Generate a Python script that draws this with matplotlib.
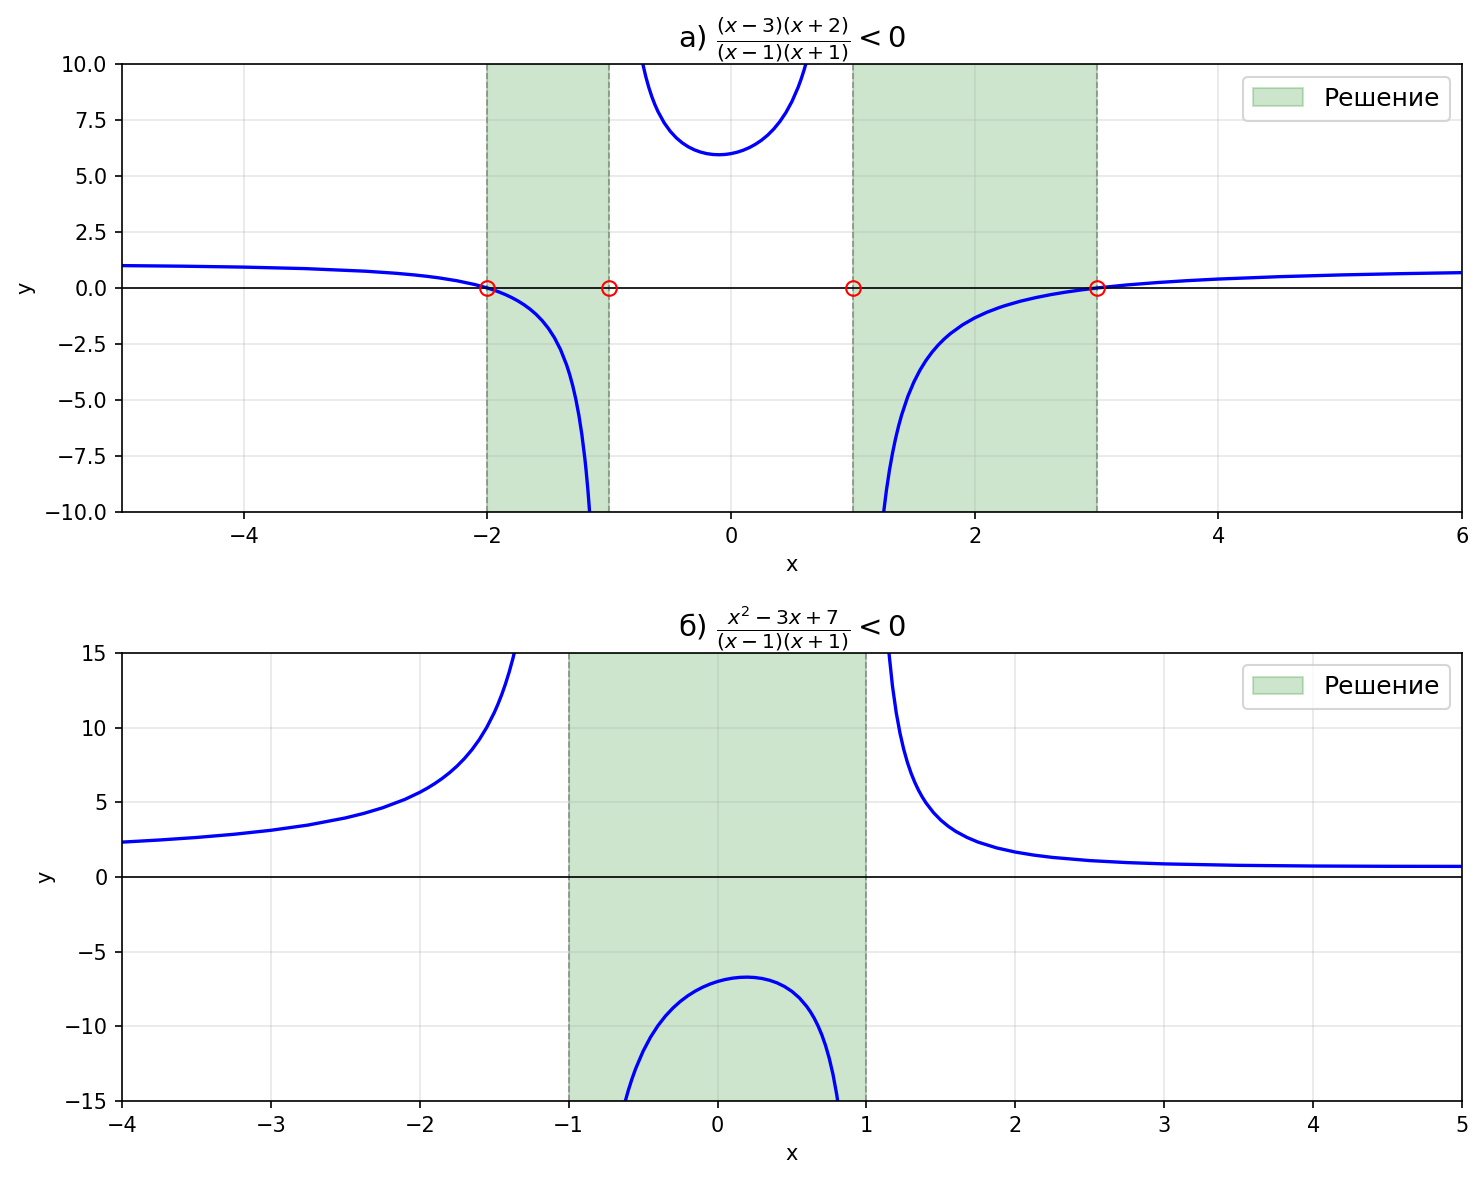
import matplotlib.pyplot as plt

# a) (x-3)(x+2)/((x-1)(x+1)) < 0
a_x1 = [-5, -4.5, -4, -3.5, -3, -2.75, -2.6, -2.5, -2.4, -2.25, -2.1, -2, -1.95, -1.9,
        -1.85, -1.8, -1.75, -1.7, -1.65, -1.6, -1.55, -1.5, -1.45, -1.4, -1.35, -1.325,
        -1.3, -1.275, -1.25, -1.225, -1.2, -1.19, -1.175, -1.16]
a_y1 = [1.0, 0.974, 0.933, 0.867, 0.75, 0.657, 0.583, 0.524, 0.454, 0.323, 0.150, 0.0,
        -0.088, -0.188, -0.300, -0.429, -0.576, -0.746, -0.945, -1.179, -1.460, -1.8,
        -2.220, -2.75, -3.438, -3.864, -4.362, -4.954, -5.667, -6.541, -7.636, -8.157,
        -9.049, -10.111]
a_x2 = [-0.75, -0.725, -0.7, -0.675, -0.65, -0.625, -0.6, -0.55, -0.5, -0.45, -0.4, -0.35,
        -0.3, -0.25, -0.2, -0.15, -0.1, -0.05, 0, 0.05, 0.1, 0.15, 0.2, 0.25, 0.3, 0.35,
        0.4, 0.45, 0.5, 0.55, 0.575, 0.6, 0.625, 0.65]
a_y2 = [10.714, 10.012, 9.431, 8.945, 8.532, 8.180, 7.875, 7.380, 7.0, 6.705, 6.476, 6.299,
        6.165, 6.067, 6.0, 5.962, 5.949, 5.962, 6.0, 6.063, 6.152, 6.269, 6.417, 6.6, 6.824,
        7.097, 7.429, 7.834, 8.333, 8.957, 9.329, 9.75, 10.231, 10.784]
a_x3 = [1.2, 1.225, 1.25, 1.275, 1.3, 1.325, 1.35, 1.375, 1.4, 1.45, 1.5, 1.55, 1.6, 1.65,
        1.7, 1.75, 1.8, 1.9, 2, 2.1, 2.2, 2.25, 2.375, 2.5, 2.625, 2.75, 2.875, 3, 3.25,
        3.5, 3.75, 4, 4.5, 5, 5.5, 6]
a_y3 = [-13.09, -11.434, -10.111, -9.030, -8.130, -7.371, -6.720, -6.158, -5.667, -4.850,
        -4.2, -3.670, -3.231, -2.861, -2.545, -2.273, -2.036, -1.644, -1.333, -1.082,
        -0.875, -0.785, -0.589, -0.429, -0.294, -0.181, -0.084, 0.0, 0.137, 0.244, 0.330,
        0.4, 0.506, 0.583, 0.641, 0.686]
a_solution = [(-2, -1), (1, 3)]
a_points = [-2, -1, 1, 3]

# б) (x^2-3x+7)/((x-1)(x+1)) < 0
b_x1 = [-4, -3.75, -3.5, -3.25, -3, -2.75, -2.5, -2.375, -2.25, -2.1, -2, -1.95, -1.9,
        -1.85, -1.8, -1.75, -1.7, -1.65, -1.6, -1.55, -1.5, -1.475, -1.45, -1.425, -1.4,
        -1.375, -1.35]
b_y1 = [2.333, 2.474, 2.644, 2.856, 3.125, 3.476, 3.952, 4.259, 4.631, 5.194, 5.667, 5.942,
        6.249, 6.593, 6.982, 7.424, 7.931, 8.518, 9.205, 10.020, 11.0, 11.569, 12.202,
        12.910, 13.708, 14.614, 15.65]
b_x2 = [-0.65, -0.625, -0.6, -0.575, -0.55, -0.5, -0.45, -0.4, -0.35, -0.3, -0.25, -0.2,
        -0.15, -0.1, -0.05, 0, 0.05, 0.1, 0.15, 0.2, 0.25, 0.3, 0.35, 0.4, 0.45, 0.5, 0.55,
        0.6, 0.625, 0.65, 0.675, 0.7, 0.725, 0.75, 0.775, 0.8, 0.82]
b_y2 = [-16.23, -15.205, -14.31, -13.529, -12.835, -11.667, -10.724, -9.952, -9.313, -8.780,
        -8.333, -7.958, -7.645, -7.384, -7.170, -7.0, -6.870, -6.778, -6.724, -6.708,
        -6.733, -6.802, -6.920, -7.095, -7.339, -7.667, -8.104, -8.688, -9.051, -9.476,
        -9.976, -10.569, -11.279, -12.143, -13.210, -14.556, -15.911]
b_x3 = [1.13, 1.15, 1.175, 1.2, 1.225, 1.25, 1.275, 1.3, 1.325, 1.35, 1.375, 1.4, 1.45,
        1.5, 1.55, 1.6, 1.675, 1.75, 1.875, 2, 2.125, 2.25, 2.5, 2.75, 3, 3.5, 4, 4.5, 5]
b_y3 = [17.65, 15.109, 12.757, 11.0, 9.639, 8.556, 7.673, 6.942, 6.327, 5.802, 5.351, 4.958,
        4.311, 3.8, 3.389, 3.051, 2.648, 2.333, 1.944, 1.667, 1.462, 1.308, 1.095, 0.962,
        0.875, 0.778, 0.733, 0.714, 0.708]
b_solution = [(-1, 1)]

fig, (ax1, ax2) = plt.subplots(2, 1, figsize=(1484 / 150, 1179 / 150))
fig.subplots_adjust(left=0.0822, right=0.9852, top=0.9457, bottom=0.0662, hspace=0.3147)


def draw(ax, branches, solution, title, xlim, ylim, points=None):
    for i, (a, b) in enumerate(solution):
        ax.axvspan(a, b, color="green", alpha=0.2, label="Решение" if i == 0 else None)
        ax.axvline(a, color="gray", linestyle="--", linewidth=0.8, alpha=0.8)
        ax.axvline(b, color="gray", linestyle="--", linewidth=0.8, alpha=0.8)
    for xs, ys in branches:
        ax.plot(xs, ys, color="blue", linewidth=1.6)
    ax.axhline(0, color="black", linewidth=0.8)
    if points is not None:
        ax.plot(points, [0] * len(points), "o", markerfacecolor="none",
                markeredgecolor="red", markersize=7)
    ax.set_xlim(*xlim)
    ax.set_ylim(*ylim)
    ax.grid(True, alpha=0.3)
    ax.set_xlabel("x")
    ax.set_ylabel("y")
    ax.set_title(title, fontsize=14)
    ax.legend(loc="upper right", fontsize=12)


draw(ax1, [(a_x1, a_y1), (a_x2, a_y2), (a_x3, a_y3)], a_solution,
     r"а) $\frac{(x-3)(x+2)}{(x-1)(x+1)} < 0$", (-5, 6), (-10, 10), a_points)
draw(ax2, [(b_x1, b_y1), (b_x2, b_y2), (b_x3, b_y3)], b_solution,
     r"б) $\frac{x^2-3x+7}{(x-1)(x+1)} < 0$", (-4, 5), (-15, 15))

plt.savefig("out.png", dpi=150)
